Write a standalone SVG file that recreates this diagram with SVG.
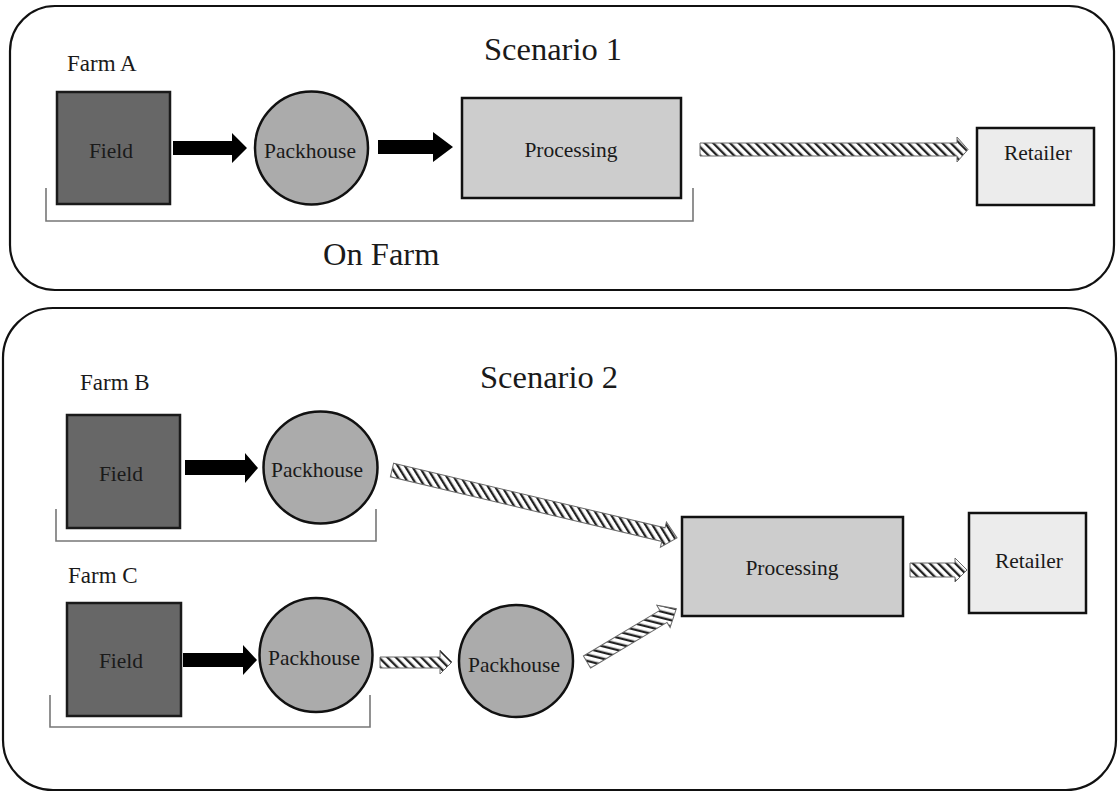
<svg xmlns="http://www.w3.org/2000/svg" width="1119" height="793" viewBox="0 0 1119 793">
<style>
.panel{fill:#fff;stroke:#111;stroke-width:2.2}
.field{fill:#676767;stroke:#1a1a1a;stroke-width:2.5}
.pack{fill:#ababab;stroke:#111;stroke-width:2.5}
.proc{fill:#cdcdcd;stroke:#111;stroke-width:2.5}
.ret{fill:#ececec;stroke:#111;stroke-width:2.5}
.lbl{font-family:"Liberation Serif","Times New Roman",serif;font-size:21.5px;fill:#1a1a1a;text-anchor:middle}
.farm{font-family:"Liberation Serif","Times New Roman",serif;font-size:23px;fill:#1a1a1a}
.title{font-family:"Liberation Serif","Times New Roman",serif;font-size:32.5px;fill:#1a1a1a}
.solid{fill:#000}
.hatch{fill:url(#stripes);stroke:#6a6a6a;stroke-width:1}
.brace{fill:none;stroke:#777;stroke-width:1.6}
</style>
<defs>
<pattern id="stripes" patternUnits="userSpaceOnUse" width="6" height="6" patternTransform="rotate(-45)">
<rect width="6" height="6" fill="#fff"/>
<rect width="2.3" height="6" fill="#222"/>
</pattern>
</defs>

<g id="panel1">
<rect class="panel" x="10" y="6" width="1104" height="284" rx="45"/>
<text class="title" x="484" y="60">Scenario 1</text>
<text class="farm" x="67" y="71">Farm A</text>
<path class="brace" d="M46,188 V221 H693 V188"/>
<text class="title" x="323" y="265">On Farm</text>
</g>

<g id="panel2">
<rect class="panel" x="3" y="308" width="1113" height="482" rx="50"/>
<text class="title" x="480" y="388">Scenario 2</text>
<text class="farm" x="80" y="390">Farm B</text>
<text class="farm" x="68" y="583">Farm C</text>
<path class="brace" d="M56,509 V541 H376 V509"/>
<path class="brace" d="M50,695 V727 H370 V695"/>
</g>

<g id="fieldA"><rect class="field" x="57" y="92" width="113" height="112"/><text class="lbl" x="111" y="158">Field</text></g>
<g id="packA"><circle class="pack" cx="311.5" cy="148" r="56.5"/><text class="lbl" x="310" y="158">Packhouse</text></g>
<g id="procA"><rect class="proc" x="462" y="98" width="219" height="100"/><text class="lbl" x="571" y="157">Processing</text></g>
<g id="retA"><rect class="ret" x="977" y="128" width="117" height="77"/><text class="lbl" x="1038" y="160">Retailer</text></g>

<g id="fieldB"><rect class="field" x="67" y="415" width="113" height="113"/><text class="lbl" x="121" y="481">Field</text></g>
<g id="packB"><ellipse class="pack" cx="320.5" cy="467.5" rx="57" ry="56"/><text class="lbl" x="317" y="477">Packhouse</text></g>

<g id="fieldC"><rect class="field" x="67" y="603" width="114" height="113"/><text class="lbl" x="121" y="668">Field</text></g>
<g id="packC1"><ellipse class="pack" cx="316" cy="655" rx="56.5" ry="57"/><text class="lbl" x="314" y="665">Packhouse</text></g>
<g id="packC2"><ellipse class="pack" cx="516" cy="661" rx="57" ry="56"/><text class="lbl" x="514" y="672">Packhouse</text></g>

<g id="procB"><rect class="proc" x="682" y="517" width="221" height="99"/><text class="lbl" x="792" y="575">Processing</text></g>
<g id="retB"><rect class="ret" x="969" y="513" width="117" height="100"/><text class="lbl" x="1029" y="568">Retailer</text></g>

<g id="connectors">
<path class="solid" d="M173,141 H232 V133 L247,148 L232,163 V155 H173 Z"/>
<path class="solid" d="M378,140 H433 V132 L453,147 L433,162 V154 H378 Z"/>
<path class="hatch" d="M700,143 H957 V137 L968,149.5 L957,162 V156 H700 Z"/>
<path class="solid" d="M185,460 H245 V453 L258,468 L245,483 V475 H185 Z"/>
<path class="hatch" transform="translate(392,470) rotate(13.4)" d="M0,-7 H279 V-13 L293,0 L279,13 V7 H0 Z"/>
<path class="solid" d="M183,653 H243 V645 L257,660 L243,675 V667 H183 Z"/>
<path class="hatch" d="M380,657 H440 V650 L452,662 L440,674 V668 H380 Z"/>
<path class="hatch" transform="translate(587,662) rotate(-30.8)" d="M0,-7 H89 V-13 L104,0 L89,13 V7 H0 Z"/>
<path class="hatch" d="M910,563 H955 V558 L967,570 L955,582 V577 H910 Z"/>
</g>
</svg>
